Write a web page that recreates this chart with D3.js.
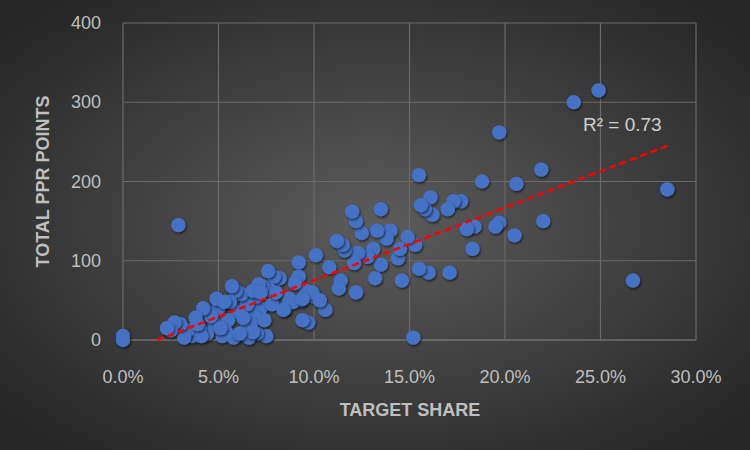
<!DOCTYPE html>
<html><head><meta charset="utf-8">
<script src="https://cdn.jsdelivr.net/npm/d3@7"></script>
<style>body{margin:0;background:#333}</style>
</head><body><div id="chart"></div>
<script>
var xTicks = [0, 5, 10, 15, 20, 25, 30];
var yTicks = [0, 100, 200, 300, 400];
var share = [0,0,2.9,15.2,23.6,24.9,19.7,28.5,26.7,22,21.9,20.6,20.5,19.7,19.5,18.8,18.4,18.3,18,17.7,17.3,17,17.1,16.1,16.2,15.8,15.6,15.5,16,15.5,15.3,14.9,14.6,14.4,14.5,14,13.8,13.5,13.3,13.5,13.2,13.1,12.8,12.5,12.2,12,12.3,12.1,12.2,11.6,11.5,11.2,11.4,11.3,10.8,10.6,10.1,10,9.7,9.6,9.3,9.2,9.2,9,8.7,8.5,8.2,7.9,7.7,7.6,7.3,7.1,7.2,7,6.9,6.7,6.5,6.2,6,5.9,5.7,5.6,5.5,5.4,5.2,5,4.8,4.6,4.4,4.2,4,3.8,3.6,3.4,3.2,3,2.7,2.5,2.3,7.5,7,6.4,6.6,5.8,9.4,8.9,6.3,4.9,5.3,6.8,7.4,4.1,3.9,5.1,6.1,7.8,8,9.9,10.3,8.4,9.4,6.8,7.2];
var points = [5,0,145,3,300,315,262,190,75,150,215,197,132,148,143,200,143,115,140,175,175,165,85,180,158,165,170,208,85,90,120,130,75,103,115,138,128,165,138,95,78,115,105,135,150,162,110,97,60,113,120,125,75,65,92,38,107,55,22,62,50,98,80,72,52,40,78,80,63,87,68,70,40,55,30,20,45,58,35,62,68,48,25,10,5,40,20,30,8,40,15,28,5,12,3,20,22,12,15,5,8,12,3,3,25,48,28,52,48,10,25,5,20,15,8,45,60,60,50,38,52,62,60];
var trend = [[1.78, 0], [28.5, 245]];
var r2Label = "R² = 0.73";

var W = 750, H = 450;
var svg = d3.select("#chart").append("svg").attr("width", W).attr("height", H)
  .style("font-family", "'Liberation Sans', 'Open Sans', sans-serif");

var defs = svg.append("defs");
var grad = defs.append("radialGradient").attr("id", "bg").attr("cx", "50%").attr("cy", "50%").attr("r", "65%");
grad.append("stop").attr("offset", "0%").attr("stop-color", "#5c5c5c");
grad.append("stop").attr("offset", "100%").attr("stop-color", "#262626");
var sh = defs.append("filter").attr("id", "sh").attr("x", "-50%").attr("y", "-50%").attr("width", "200%").attr("height", "200%");
sh.append("feDropShadow").attr("dx", 1).attr("dy", 1.5).attr("stdDeviation", 1.2).attr("flood-color", "#000").attr("flood-opacity", 0.6);

svg.append("rect").attr("width", W).attr("height", H).attr("fill", "url(#bg)");

var x = d3.scaleLinear().domain([0, 30]).range([123, 696]);
var y = d3.scaleLinear().domain([0, 400]).range([340, 23]);

svg.append("g").selectAll("line").data(yTicks).enter().append("line")
  .attr("x1", x(0)).attr("x2", x(30)).attr("y1", d => y(d)).attr("y2", d => y(d))
  .attr("stroke", d => d === 0 ? "#8a8a8a" : "#6a6a6a").attr("stroke-width", 1.2);
svg.append("g").selectAll("line").data(xTicks).enter().append("line")
  .attr("y1", y(0)).attr("y2", y(400)).attr("x1", d => x(d)).attr("x2", d => x(d))
  .attr("stroke", "#6a6a6a").attr("stroke-width", 1.2);

svg.append("g").selectAll("text").data(yTicks).enter().append("text")
  .attr("x", 101).attr("y", d => y(d) + 6).attr("text-anchor", "end")
  .attr("fill", "#bfbfbf").attr("font-size", 18).text(d => d);
svg.append("g").selectAll("text").data(xTicks).enter().append("text")
  .attr("x", d => x(d)).attr("y", 383).attr("text-anchor", "middle")
  .attr("fill", "#bfbfbf").attr("font-size", 18).text(d => d.toFixed(1) + "%");

svg.append("text").attr("transform", "translate(49," + ((y(0) + y(400)) / 2) + ") rotate(-90)")
  .attr("text-anchor", "middle").attr("fill", "#bfbfbf").attr("font-size", 18)
  .attr("font-weight", "bold").text("TOTAL PPR POINTS");
svg.append("text").attr("x", 410).attr("y", 416).attr("text-anchor", "middle")
  .attr("fill", "#bfbfbf").attr("font-size", 18).attr("font-weight", "bold").text("TARGET SHARE");

svg.append("g").selectAll("circle").data(share).enter().append("circle")
  .attr("cx", d => x(d)).attr("cy", (d, i) => y(points[i])).attr("r", 7.2)
  .attr("fill", "#4472c4").attr("filter", "url(#sh)");

svg.append("line")
  .attr("x1", x(trend[0][0])).attr("y1", y(trend[0][1]))
  .attr("x2", x(trend[1][0])).attr("y2", y(trend[1][1]))
  .attr("stroke", "#ff0000").attr("stroke-width", 2.5).attr("stroke-dasharray", "7,4");

svg.append("text").attr("x", 583).attr("y", 131).attr("fill", "#d0d0d0")
  .attr("font-size", 19).text(r2Label);
</script></body></html>
